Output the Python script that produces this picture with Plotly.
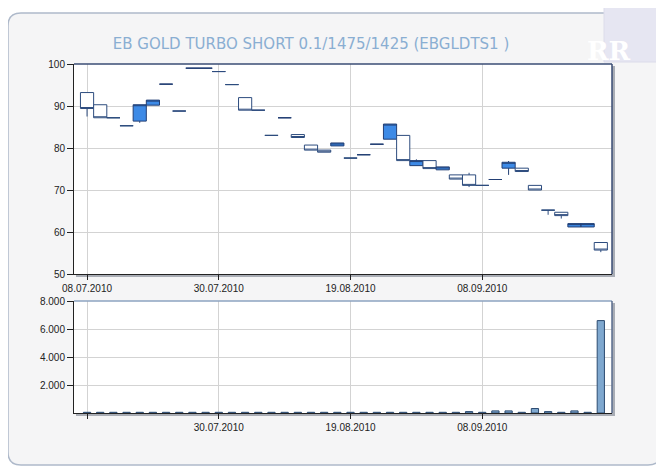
import plotly.graph_objects as go

# ---------------- data ----------------
title_text = "EB GOLD TURBO SHORT 0.1/1475/1425 (EBGLDTS1 )"
idx = list(range(40))
open_ = [93.2, 90.3, 87.2, 85.3, 86.4, 90.2, 95.2, 88.8, 99.0, 99.0,
         98.2, 95.1, 92.0, 89.0, 83.0, 87.2, 83.2, 80.7, 79.5, 80.5,
         77.6, 78.4, 80.9, 82.1, 83.0, 75.8, 77.0, 74.8, 73.6, 73.6,
         71.1, 72.5, 75.2, 75.2, 71.1, 65.2, 64.7, 61.2, 61.2, 57.5]
close = [89.4, 87.2, 87.2, 85.3, 90.3, 91.4, 95.2, 88.8, 99.0, 99.0,
         98.2, 95.1, 89.0, 89.0, 83.0, 87.2, 82.5, 79.5, 79.0, 81.2,
         77.6, 78.4, 80.9, 85.7, 77.0, 77.0, 75.1, 75.5, 72.6, 71.1,
         71.1, 72.5, 76.6, 74.4, 70.0, 65.2, 63.9, 62.0, 62.0, 55.7]
high = [93.2, 90.3, 87.2, 85.3, 90.3, 91.4, 95.2, 88.8, 99.0, 99.0,
        98.2, 95.1, 92.0, 89.0, 83.0, 87.2, 83.2, 80.7, 79.5, 81.2,
        77.6, 78.4, 80.9, 85.7, 83.0, 77.3, 77.0, 75.5, 73.6, 74.1,
        71.1, 72.5, 76.9, 75.2, 71.1, 65.2, 64.7, 62.0, 62.0, 57.5]
low = [87.5, 87.2, 87.2, 85.3, 86.0, 90.2, 95.2, 88.8, 99.0, 99.0,
       98.2, 95.1, 89.0, 89.0, 83.0, 87.2, 82.5, 79.5, 79.0, 80.5,
       77.6, 78.4, 80.9, 82.1, 77.0, 75.8, 75.1, 74.8, 72.6, 70.7,
       71.1, 72.5, 73.6, 74.4, 70.0, 64.1, 63.2, 61.2, 61.2, 55.2]
volume = [50, 50, 50, 50, 50, 50, 50, 50, 50, 50,
          50, 50, 50, 50, 50, 50, 50, 50, 50, 50,
          50, 50, 50, 50, 50, 50, 50, 50, 50, 100,
          50, 150, 150, 50, 320, 100, 50, 150, 50, 6600]
tick_pos = [0, 10, 20, 30]
tick_labels = ["08.07.2010", "30.07.2010", "19.08.2010", "08.09.2010"]
vol_tick_labels = ["", "30.07.2010", "19.08.2010", "08.09.2010"]
price_ticks = [50, 60, 70, 80, 90, 100]
vol_ticks = [2000, 4000, 6000, 8000]
vol_tick_labels_y = ["2.000", "4.000", "6.000", "8.000"]

W, H = 664, 466
OFF = 8  # page body margin
def px(x): return (x - OFF) / W
def py(y): return 1 - (y - OFF) / H

fig = go.Figure()
fig.add_trace(go.Candlestick(
    x=idx, open=open_, high=high, low=low, close=close,
    increasing=dict(line=dict(color="#233f74", width=1), fillcolor="#3d8ae6"),
    decreasing=dict(line=dict(color="#2d4c7e", width=1), fillcolor="#ffffff"),
    whiskerwidth=0, xaxis="x", yaxis="y", showlegend=False, hoverinfo="skip"))
fig.add_trace(go.Bar(
    x=idx, y=volume, width=0.55,
    marker=dict(color="#7fa8cf", line=dict(color="#2c4a70", width=1)),
    xaxis="x2", yaxis="y2", showlegend=False, hoverinfo="skip"))

font = dict(family="Liberation Sans, Arial, sans-serif", size=10, color="#222222")
xr = [-0.99, 39.85]
common_x = dict(range=xr, tickmode="array", tickvals=tick_pos, showgrid=True,
                gridcolor="#d3d3d3", gridwidth=1, ticks="outside", ticklen=5,
                tickcolor="#222", showline=True, linecolor="#222", linewidth=1,
                mirror=False, zeroline=False, tickfont=font, fixedrange=True,
                automargin=False)
common_y = dict(showgrid=True, gridcolor="#d3d3d3", ticks="outside", ticklen=6,
                tickcolor="#222", showline=True, linecolor="#222", zeroline=False,
                tickfont=font, fixedrange=True, automargin=False)
fig.update_layout(
    width=W, height=H, autosize=False,
    margin=dict(l=0, r=0, t=0, b=0, pad=0, autoexpand=False),
    paper_bgcolor="#ffffff", plot_bgcolor="#ffffff", boxgap=0, boxgroupgap=0,
    xaxis=dict(domain=[px(74), px(612)], anchor="y", ticktext=tick_labels,
               rangeslider=dict(visible=False), **common_x),
    yaxis=dict(domain=[py(274), py(64)], anchor="x", range=[50, 100],
               tickvals=price_ticks, **common_y),
    xaxis2=dict(domain=[px(74), px(612)], anchor="y2", ticktext=vol_tick_labels, **common_x),
    yaxis2=dict(domain=[py(413), py(301)], anchor="x2", range=[0, 8000],
                tickvals=vol_ticks, ticktext=vol_tick_labels_y, **common_y),
    title=dict(text=title_text, x=px(311), xanchor="center", y=py(43.5), yanchor="middle",
               font=dict(family="DejaVu Sans, sans-serif", size=15, color="#8aaed2")),
)

# background panel (rounded), plot shadows, borders, logo
r = 13
x0, y0, x1, y1 = 8, 13, 661, 465
path = (f"M {px(x0+r)},{py(y0)} L {px(x1-r)},{py(y0)} Q {px(x1)},{py(y0)} {px(x1)},{py(y0+r)} "
        f"L {px(x1)},{py(y1-r)} Q {px(x1)},{py(y1)} {px(x1-r)},{py(y1)} "
        f"L {px(x0+r)},{py(y1)} Q {px(x0)},{py(y1)} {px(x0)},{py(y1-r)} "
        f"L {px(x0)},{py(y0+r)} Q {px(x0)},{py(y0)} {px(x0+r)},{py(y0)} Z")
shapes = [
    dict(type="path", path=path, xref="paper", yref="paper", layer="below",
         fillcolor="#f5f5f6", line=dict(color="#aeb9ca", width=1.5)),
    dict(type="rect", xref="paper", yref="paper", layer="below",
         x0=px(76), x1=px(615), y0=py(277), y1=py(66),
         fillcolor="#a9adb5", line=dict(width=0)),
    dict(type="rect", xref="paper", yref="paper", layer="below",
         x0=px(76), x1=px(615), y0=py(416), y1=py(303),
         fillcolor="#a9adb5", line=dict(width=0)),
    dict(type="rect", xref="paper", yref="paper", layer="below",
         x0=px(74), x1=px(612), y0=py(274), y1=py(64),
         fillcolor="#ffffff", line=dict(width=0)),
    dict(type="rect", xref="paper", yref="paper", layer="below",
         x0=px(74), x1=px(612), y0=py(413), y1=py(301),
         fillcolor="#ffffff", line=dict(width=0)),
    # top / right borders
    dict(type="line", xref="paper", yref="paper", x0=px(74), x1=px(612), y0=py(64), y1=py(64),
         line=dict(color="#3a4d74", width=1.5)),
    dict(type="line", xref="paper", yref="paper", x0=px(612), x1=px(612), y0=py(64), y1=py(274),
         line=dict(color="#3a4d74", width=1.5)),
    dict(type="line", xref="paper", yref="paper", x0=px(74), x1=px(612), y0=py(301), y1=py(301),
         line=dict(color="#8da3c0", width=1.5)),
    dict(type="line", xref="paper", yref="paper", x0=px(612), x1=px(612), y0=py(301), y1=py(413),
         line=dict(color="#5a6d8e", width=1.5)),
    # logo box
    dict(type="rect", xref="paper", yref="paper",
         x0=px(604), x1=px(668), y0=py(62), y1=py(0),
         fillcolor="#e6e6f2", line=dict(color="#dcdcea", width=1)),
]
fig.update_layout(shapes=shapes)
fig.add_annotation(x=px(633), y=py(34), xref="paper", yref="paper", text="<b>RR</b>",
                   showarrow=False, font=dict(family="DejaVu Serif, serif", size=26, color="#ffffff"))

fig.write_html("out.html")
